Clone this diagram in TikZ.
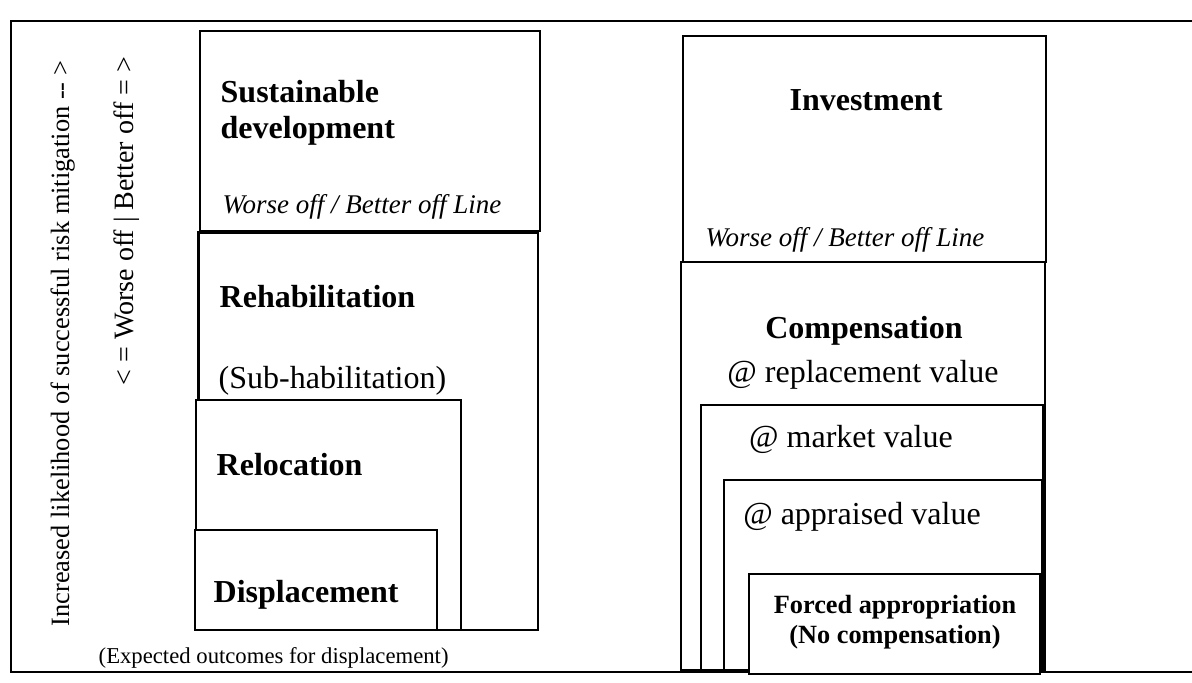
\documentclass[tikz,border=0pt]{standalone}
\usepackage{fontspec}
\setmainfont{Liberation Serif}
\usepackage{tikz}
\newcommand{\bigsize}{\fontsize{32}{38}\selectfont}
\newcommand{\midsize}{\fontsize{27}{32}\selectfont}
\newcommand{\smallsize}{\fontsize{26.3}{31}\selectfont}
\newcommand{\sidesize}{\fontsize{26.4}{32}\selectfont}
\newcommand{\capsize}{\fontsize{22.7}{27}\selectfont}
\tikzstyle{box}=[draw, fill=white, inner sep=0, outer sep=0, anchor=north west]
\tikzstyle{heavy}=[line width=3pt]
\tikzstyle{heading}=[inner sep=0, anchor=base west, font=\bfseries\bigsize]
\tikzstyle{plain}=[inner sep=0, anchor=base west, font=\bigsize]
\tikzstyle{note}=[inner sep=0, anchor=base west, font=\itshape\midsize]
\tikzstyle{smallheading}=[inner sep=0, anchor=base, font=\bfseries\smallsize]
\tikzstyle{sidetext}=[inner sep=0, anchor=base west, rotate=90, font=\sidesize]
\tikzstyle{caption}=[inner sep=0, anchor=base west, font=\capsize]

\begin{document}
\begin{tikzpicture}[x=1pt, y=-1pt, line width=1.4pt]
        \useasboundingbox (0,0) rectangle (1192,683);
        % frame, open to the right
        \draw (1192,21) -- (11,21) -- (11,672) -- (1192,672);

        % outcomes for displacement
        \node[box, minimum width=340, minimum height=200] (sust) at (200,31) {};
        \node[box, minimum width=340, minimum height=398] (rehab) at (198,232) {};
        \node[box, minimum width=265, minimum height=230] (reloc) at (196,400) {};
        \node[box, minimum width=242, minimum height=100] (displ) at (195,530) {};
        \draw[heavy] (rehab.west |- reloc.north) -- (rehab.north west) -- (rehab.north east);

        \node[heading] (sust1) at (220,102) {Sustainable};
        \node[heading] (sust2) at (220,138) {development};
        \node[note] (line1) at (222,213) {Worse off / Better off Line};
        \node[heading] (rehabt) at (219,307) {Rehabilitation};
        \node[plain] (subhab) at (218,388) {(Sub-habilitation)};
        \node[heading] (reloct) at (216,475) {Relocation};
        \node[heading] (displt) at (213,602) {Displacement};
        \node[caption] (expect) at (98,663) {(Expected outcomes for displacement)};

        \node[sidetext] (likely) at (69,627) {Increased likelihood of successful risk mitigation -{}- >};
        \node[sidetext, font=\fontsize{28}{32}\selectfont] (better) at (133,386) {< = Worse off | Better off = >};

        % compensation ladder
        \node[box, minimum width=363, minimum height=226] (invest) at (683,36) {};
        \node[box, minimum width=364, minimum height=408] (comp) at (681,262) {};
        \node[box, minimum width=342, minimum height=265] (market) at (701,405) {};
        \node[box, minimum width=318, minimum height=190] (apprai) at (724,480) {};
        \node[box, minimum width=291, minimum height=100] (forced) at (749,574) {};

        \node[heading, anchor=base] (investt) at (866,110) {Investment};
        \node[note] (line2) at (705,246) {Worse off / Better off Line};
        \node[heading, anchor=base] (compt) at (864,338) {Compensation};
        \node[plain, anchor=base] (repl) at (863,382) {@ replacement value};
        \node[plain, anchor=base] (mkt) at (851,447) {@ market value};
        \node[plain, anchor=base] (appr) at (862,524) {@ appraised value};
        \node[smallheading] (forced1) at (895,613) {Forced appropriation};
        \node[smallheading] (forced2) at (895,643) {(No compensation)};
\end{tikzpicture}
\end{document}
